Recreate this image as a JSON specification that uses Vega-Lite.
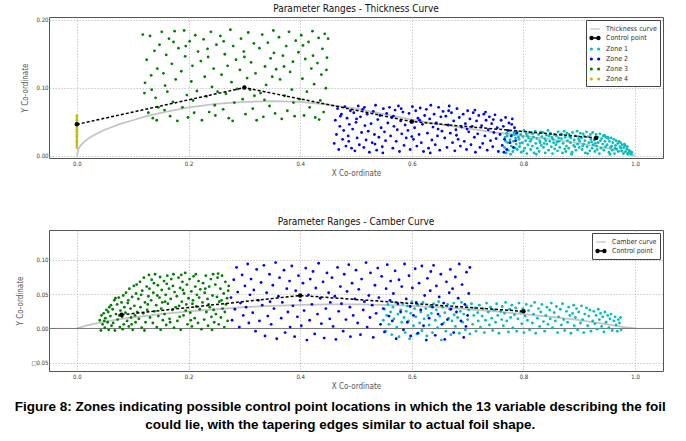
{
"$schema":"https://vega.github.io/schema/vega-lite/v6.json",
"background":"white",
"padding":{"left":14,"top":3,"right":24,"bottom":4},
"spacing":38,
"config":{
"font":"Liberation Sans Narrow, DejaVu Sans Condensed, Liberation Sans, sans-serif",
"view":{"stroke":"#555","strokeWidth":1},
"axis":{"labelFontSize":6,"labelColor":"#333","grid":true,"gridColor":"#bbb","gridDash":[1.5,1.5],"gridWidth":0.8,"domain":false,"ticks":false,"labelPadding":2,"titleFontSize":8,"titleFontWeight":"normal","titleColor":"#555","titlePadding":3},
"axisY":{"labelPadding":1,"titlePadding":6},
"title":{"fontSize":10,"fontWeight":"normal","color":"#111","offset":3},
"legend":{"title":null,"orient":"top-right","offset":3,"padding":3,"strokeColor":"#444","fillColor":"white","labelFontSize":7,"labelColor":"#333","symbolSize":110,"rowPadding":0,"labelOffset":5}
},
"title":{"text":["Figure 8: Zones indicating possible control point locations in which the 13 variable describing the foil","could lie, with the tapering edges similar to actual foil shape."],"orient":"bottom","anchor":"middle","fontSize":13.5,"fontWeight":"bold","font":"Liberation Sans, Arial, sans-serif","color":"#000","lineHeight":18,"offset":9},
"resolve":{"scale":{"color":"independent"},"legend":{"color":"independent"}},
"datasets":{
"tcurve":[{"x":0,"y":0},{"x":0.002,"y":0.008},{"x":0.005,"y":0.013},{"x":0.01,"y":0.018},{"x":0.02,"y":0.025},{"x":0.03,"y":0.03},{"x":0.05,"y":0.038},{"x":0.075,"y":0.046},{"x":0.1,"y":0.052},{"x":0.125,"y":0.058},{"x":0.15,"y":0.063},{"x":0.2,"y":0.071},{"x":0.25,"y":0.076},{"x":0.3,"y":0.079},{"x":0.35,"y":0.08},{"x":0.4,"y":0.079},{"x":0.45,"y":0.075},{"x":0.5,"y":0.069},{"x":0.55,"y":0.061},{"x":0.6,"y":0.053},{"x":0.65,"y":0.046},{"x":0.7,"y":0.04},{"x":0.75,"y":0.034},{"x":0.8,"y":0.029},{"x":0.85,"y":0.024},{"x":0.9,"y":0.018},{"x":0.95,"y":0.011},{"x":0.98,"y":0.005},{"x":1.0,"y":0}],
"tctrl":[{"x":0,"y":0.046},{"x":0.3,"y":0.1},{"x":0.6,"y":0.05},{"x":0.93,"y":0.026}],
"tz4":[{"x":0,"y":0.012},{"x":0,"y":0.015},{"x":0,"y":0.017},{"x":0,"y":0.019},{"x":0,"y":0.021},{"x":0,"y":0.023},{"x":0,"y":0.026},{"x":0,"y":0.028},{"x":0,"y":0.029},{"x":0,"y":0.031},{"x":0,"y":0.034},{"x":0,"y":0.036},{"x":0,"y":0.038},{"x":0,"y":0.039},{"x":0,"y":0.041},{"x":0,"y":0.044},{"x":0,"y":0.046},{"x":0,"y":0.047},{"x":0,"y":0.049},{"x":0,"y":0.052},{"x":0,"y":0.054},{"x":0,"y":0.057},{"x":0,"y":0.059}],
"tz3":[{"x":0.118,"y":0.178},{"x":0.121,"y":0.092},{"x":0.125,"y":0.141},{"x":0.128,"y":0.063},{"x":0.131,"y":0.176},{"x":0.133,"y":0.118},{"x":0.136,"y":0.055},{"x":0.139,"y":0.154},{"x":0.141,"y":0.085},{"x":0.144,"y":0.128},{"x":0.146,"y":0.071},{"x":0.148,"y":0.163},{"x":0.122,"y":0.107},{"x":0.134,"y":0.097},{"x":0.143,"y":0.052},
{"x":0.152,"y":0.182},{"x":0.155,"y":0.121},{"x":0.157,"y":0.067},{"x":0.16,"y":0.148},{"x":0.162,"y":0.094},{"x":0.165,"y":0.172},{"x":0.167,"y":0.058},{"x":0.17,"y":0.135},{"x":0.172,"y":0.079},{"x":0.175,"y":0.183},{"x":0.177,"y":0.112},{"x":0.18,"y":0.051},{"x":0.182,"y":0.158},{"x":0.158,"y":0.103},{"x":0.173,"y":0.167},
{"x":0.187,"y":0.124},{"x":0.189,"y":0.071},{"x":0.192,"y":0.184},{"x":0.194,"y":0.146},{"x":0.197,"y":0.089},{"x":0.199,"y":0.056},{"x":0.202,"y":0.168},{"x":0.205,"y":0.109},{"x":0.207,"y":0.132},{"x":0.21,"y":0.063},{"x":0.212,"y":0.177},{"x":0.215,"y":0.095},{"x":0.217,"y":0.153},{"x":0.195,"y":0.161},{"x":0.208,"y":0.081},
{"x":0.222,"y":0.139},{"x":0.224,"y":0.052},{"x":0.227,"y":0.171},{"x":0.229,"y":0.116},{"x":0.232,"y":0.087},{"x":0.234,"y":0.157},{"x":0.237,"y":0.064},{"x":0.24,"y":0.182},{"x":0.242,"y":0.101},{"x":0.245,"y":0.128},{"x":0.247,"y":0.074},{"x":0.25,"y":0.163},{"x":0.252,"y":0.094},{"x":0.235,"y":0.145},{"x":0.248,"y":0.059},
{"x":0.257,"y":0.176},{"x":0.259,"y":0.119},{"x":0.262,"y":0.068},{"x":0.265,"y":0.149},{"x":0.267,"y":0.091},{"x":0.27,"y":0.132},{"x":0.272,"y":0.055},{"x":0.275,"y":0.185},{"x":0.277,"y":0.108},{"x":0.28,"y":0.161},{"x":0.282,"y":0.078},{"x":0.285,"y":0.141},{"x":0.287,"y":0.098},{"x":0.263,"y":0.168},{"x":0.279,"y":0.051},
{"x":0.292,"y":0.126},{"x":0.294,"y":0.172},{"x":0.297,"y":0.083},{"x":0.299,"y":0.153},{"x":0.302,"y":0.061},{"x":0.305,"y":0.114},{"x":0.307,"y":0.181},{"x":0.31,"y":0.097},{"x":0.312,"y":0.137},{"x":0.315,"y":0.069},{"x":0.317,"y":0.165},{"x":0.32,"y":0.121},{"x":0.322,"y":0.052},{"x":0.3,"y":0.145},{"x":0.318,"y":0.088},
{"x":0.327,"y":0.158},{"x":0.329,"y":0.092},{"x":0.332,"y":0.178},{"x":0.334,"y":0.057},{"x":0.337,"y":0.131},{"x":0.339,"y":0.104},{"x":0.342,"y":0.166},{"x":0.345,"y":0.073},{"x":0.347,"y":0.143},{"x":0.35,"y":0.116},{"x":0.352,"y":0.184},{"x":0.355,"y":0.062},{"x":0.357,"y":0.127},{"x":0.336,"y":0.082},{"x":0.353,"y":0.151},
{"x":0.362,"y":0.174},{"x":0.364,"y":0.112},{"x":0.367,"y":0.054},{"x":0.369,"y":0.147},{"x":0.372,"y":0.088},{"x":0.375,"y":0.161},{"x":0.377,"y":0.066},{"x":0.38,"y":0.182},{"x":0.382,"y":0.123},{"x":0.385,"y":0.097},{"x":0.387,"y":0.138},{"x":0.39,"y":0.058},{"x":0.392,"y":0.169},{"x":0.371,"y":0.131},{"x":0.388,"y":0.078},
{"x":0.397,"y":0.152},{"x":0.399,"y":0.083},{"x":0.402,"y":0.177},{"x":0.404,"y":0.113},{"x":0.407,"y":0.059},{"x":0.409,"y":0.142},{"x":0.412,"y":0.094},{"x":0.415,"y":0.167},{"x":0.417,"y":0.071},{"x":0.42,"y":0.128},{"x":0.422,"y":0.183},{"x":0.425,"y":0.105},{"x":0.427,"y":0.056},{"x":0.405,"y":0.162},{"x":0.423,"y":0.147},
{"x":0.431,"y":0.136},{"x":0.433,"y":0.173},{"x":0.436,"y":0.081},{"x":0.438,"y":0.119},{"x":0.44,"y":0.157},{"x":0.442,"y":0.064},{"x":0.444,"y":0.179},{"x":0.446,"y":0.099},{"x":0.448,"y":0.144},{"x":0.45,"y":0.172},{"x":0.434,"y":0.053},{"x":0.447,"y":0.126}],
"tz2":[{"x":0.461,"y":0.018},{"x":0.463,"y":0.052},{"x":0.465,"y":0.031},{"x":0.467,"y":0.069},{"x":0.469,"y":0.009},{"x":0.471,"y":0.043},{"x":0.474,"y":0.061},{"x":0.476,"y":0.024},{"x":0.478,"y":0.037},{"x":0.48,"y":0.072},{"x":0.482,"y":0.014},{"x":0.484,"y":0.055},{"x":0.486,"y":0.029},{"x":0.488,"y":0.046},{"x":0.49,"y":0.066},{"x":0.492,"y":0.011},{"x":0.472,"y":0.058},{"x":0.487,"y":0.021},
{"x":0.494,"y":0.039},{"x":0.496,"y":0.063},{"x":0.498,"y":0.007},{"x":0.5,"y":0.049},{"x":0.502,"y":0.026},{"x":0.504,"y":0.073},{"x":0.506,"y":0.016},{"x":0.508,"y":0.057},{"x":0.51,"y":0.034},{"x":0.512,"y":0.068},{"x":0.514,"y":0.012},{"x":0.516,"y":0.044},{"x":0.518,"y":0.023},{"x":0.52,"y":0.061},{"x":0.522,"y":0.036},{"x":0.524,"y":0.005},{"x":0.501,"y":0.054},{"x":0.515,"y":0.071},
{"x":0.527,"y":0.047},{"x":0.529,"y":0.019},{"x":0.531,"y":0.065},{"x":0.533,"y":0.031},{"x":0.535,"y":0.074},{"x":0.537,"y":0.008},{"x":0.539,"y":0.053},{"x":0.541,"y":0.027},{"x":0.543,"y":0.059},{"x":0.545,"y":0.041},{"x":0.547,"y":0.013},{"x":0.549,"y":0.069},{"x":0.551,"y":0.035},{"x":0.553,"y":0.022},{"x":0.555,"y":0.062},{"x":0.557,"y":0.048},{"x":0.534,"y":0.017},{"x":0.548,"y":0.004},
{"x":0.56,"y":0.071},{"x":0.562,"y":0.029},{"x":0.564,"y":0.056},{"x":0.566,"y":0.011},{"x":0.568,"y":0.043},{"x":0.57,"y":0.067},{"x":0.572,"y":0.021},{"x":0.574,"y":0.038},{"x":0.576,"y":0.073},{"x":0.578,"y":0.006},{"x":0.58,"y":0.051},{"x":0.582,"y":0.032},{"x":0.584,"y":0.064},{"x":0.586,"y":0.015},{"x":0.588,"y":0.045},{"x":0.59,"y":0.026},{"x":0.567,"y":0.058},{"x":0.581,"y":0.069},
{"x":0.593,"y":0.037},{"x":0.595,"y":0.062},{"x":0.597,"y":0.009},{"x":0.599,"y":0.049},{"x":0.601,"y":0.072},{"x":0.603,"y":0.024},{"x":0.605,"y":0.041},{"x":0.607,"y":0.066},{"x":0.609,"y":0.014},{"x":0.611,"y":0.055},{"x":0.613,"y":0.031},{"x":0.615,"y":0.07},{"x":0.617,"y":0.019},{"x":0.619,"y":0.046},{"x":0.621,"y":0.006},{"x":0.623,"y":0.059},{"x":0.6,"y":0.028},{"x":0.614,"y":0.052},
{"x":0.626,"y":0.068},{"x":0.628,"y":0.033},{"x":0.63,"y":0.011},{"x":0.632,"y":0.054},{"x":0.634,"y":0.074},{"x":0.636,"y":0.023},{"x":0.638,"y":0.042},{"x":0.64,"y":0.061},{"x":0.642,"y":0.016},{"x":0.644,"y":0.048},{"x":0.646,"y":0.029},{"x":0.648,"y":0.071},{"x":0.65,"y":0.008},{"x":0.652,"y":0.057},{"x":0.654,"y":0.036},{"x":0.656,"y":0.065},{"x":0.633,"y":0.004},{"x":0.647,"y":0.039},
{"x":0.659,"y":0.026},{"x":0.661,"y":0.058},{"x":0.663,"y":0.012},{"x":0.665,"y":0.045},{"x":0.667,"y":0.073},{"x":0.669,"y":0.033},{"x":0.671,"y":0.063},{"x":0.673,"y":0.019},{"x":0.675,"y":0.051},{"x":0.677,"y":0.007},{"x":0.679,"y":0.038},{"x":0.681,"y":0.069},{"x":0.683,"y":0.024},{"x":0.685,"y":0.056},{"x":0.687,"y":0.014},{"x":0.689,"y":0.042},{"x":0.666,"y":0.066},{"x":0.68,"y":0.03},
{"x":0.692,"y":0.061},{"x":0.694,"y":0.021},{"x":0.696,"y":0.047},{"x":0.698,"y":0.009},{"x":0.7,"y":0.066},{"x":0.702,"y":0.035},{"x":0.704,"y":0.054},{"x":0.706,"y":0.016},{"x":0.708,"y":0.043},{"x":0.71,"y":0.063},{"x":0.712,"y":0.027},{"x":0.714,"y":0.005},{"x":0.716,"y":0.051},{"x":0.718,"y":0.032},{"x":0.72,"y":0.059},{"x":0.722,"y":0.012},{"x":0.699,"y":0.039},{"x":0.713,"y":0.067},
{"x":0.725,"y":0.044},{"x":0.727,"y":0.018},{"x":0.729,"y":0.061},{"x":0.731,"y":0.029},{"x":0.733,"y":0.052},{"x":0.735,"y":0.008},{"x":0.737,"y":0.038},{"x":0.739,"y":0.057},{"x":0.741,"y":0.022},{"x":0.743,"y":0.047},{"x":0.745,"y":0.013},{"x":0.747,"y":0.034},{"x":0.749,"y":0.06},{"x":0.751,"y":0.025},{"x":0.753,"y":0.041},{"x":0.755,"y":0.006},{"x":0.732,"y":0.064},{"x":0.746,"y":0.053},
{"x":0.758,"y":0.031},{"x":0.76,"y":0.052},{"x":0.762,"y":0.015},{"x":0.764,"y":0.043},{"x":0.766,"y":0.024},{"x":0.768,"y":0.056},{"x":0.77,"y":0.009},{"x":0.772,"y":0.037},{"x":0.774,"y":0.048},{"x":0.776,"y":0.019},{"x":0.778,"y":0.029},{"x":0.78,"y":0.054},{"x":0.782,"y":0.012},{"x":0.784,"y":0.041},{"x":0.786,"y":0.022},{"x":0.788,"y":0.033},{"x":0.765,"y":0.005},{"x":0.779,"y":0.046}],
"tz1":[{"x":0.766,"y":0.012},{"x":0.767,"y":0.027},{"x":0.769,"y":0.004},{"x":0.77,"y":0.033},{"x":0.772,"y":0.019},{"x":0.773,"y":0.008},{"x":0.775,"y":0.036},{"x":0.776,"y":0.023},{"x":0.778,"y":0.014},{"x":0.779,"y":0.03},{"x":0.781,"y":0.006},{"x":0.782,"y":0.021},{"x":0.783,"y":0.034},{"x":0.785,"y":0.011},{"x":0.786,"y":0.026},{"x":0.787,"y":0.017},{"x":0.771,"y":0.029},{"x":0.777,"y":0.002},{"x":0.784,"y":0.031},{"x":0.768,"y":0.021},
{"x":0.789,"y":0.009},{"x":0.79,"y":0.035},{"x":0.792,"y":0.024},{"x":0.793,"y":0.013},{"x":0.795,"y":0.031},{"x":0.796,"y":0.005},{"x":0.798,"y":0.019},{"x":0.799,"y":0.028},{"x":0.801,"y":0.037},{"x":0.802,"y":0.011},{"x":0.804,"y":0.022},{"x":0.805,"y":0.032},{"x":0.806,"y":0.003},{"x":0.808,"y":0.016},{"x":0.809,"y":0.026},{"x":0.81,"y":0.034},{"x":0.794,"y":0.018},{"x":0.8,"y":0.007},{"x":0.807,"y":0.029},{"x":0.791,"y":0.027},
{"x":0.812,"y":0.021},{"x":0.813,"y":0.009},{"x":0.815,"y":0.033},{"x":0.816,"y":0.014},{"x":0.818,"y":0.027},{"x":0.819,"y":0.004},{"x":0.821,"y":0.036},{"x":0.822,"y":0.018},{"x":0.824,"y":0.025},{"x":0.825,"y":0.011},{"x":0.827,"y":0.031},{"x":0.828,"y":0.006},{"x":0.829,"y":0.022},{"x":0.831,"y":0.035},{"x":0.832,"y":0.015},{"x":0.833,"y":0.028},{"x":0.817,"y":0.032},{"x":0.823,"y":0.002},{"x":0.83,"y":0.019},{"x":0.814,"y":0.024},
{"x":0.835,"y":0.034},{"x":0.836,"y":0.012},{"x":0.838,"y":0.025},{"x":0.839,"y":0.004},{"x":0.841,"y":0.03},{"x":0.842,"y":0.017},{"x":0.844,"y":0.037},{"x":0.845,"y":0.008},{"x":0.847,"y":0.021},{"x":0.848,"y":0.033},{"x":0.85,"y":0.013},{"x":0.851,"y":0.027},{"x":0.852,"y":0.003},{"x":0.854,"y":0.019},{"x":0.855,"y":0.031},{"x":0.856,"y":0.01},{"x":0.84,"y":0.022},{"x":0.846,"y":0.029},{"x":0.853,"y":0.024},{"x":0.837,"y":0.018},
{"x":0.858,"y":0.016},{"x":0.859,"y":0.029},{"x":0.861,"y":0.007},{"x":0.862,"y":0.035},{"x":0.864,"y":0.021},{"x":0.865,"y":0.012},{"x":0.867,"y":0.032},{"x":0.868,"y":0.025},{"x":0.87,"y":0.004},{"x":0.871,"y":0.018},{"x":0.873,"y":0.036},{"x":0.874,"y":0.01},{"x":0.875,"y":0.027},{"x":0.877,"y":0.014},{"x":0.878,"y":0.033},{"x":0.879,"y":0.022},{"x":0.863,"y":0.026},{"x":0.869,"y":0.031},{"x":0.876,"y":0.006},{"x":0.86,"y":0.02},
{"x":0.881,"y":0.011},{"x":0.882,"y":0.031},{"x":0.884,"y":0.019},{"x":0.885,"y":0.026},{"x":0.887,"y":0.005},{"x":0.888,"y":0.034},{"x":0.89,"y":0.015},{"x":0.891,"y":0.023},{"x":0.893,"y":0.029},{"x":0.894,"y":0.008},{"x":0.896,"y":0.036},{"x":0.897,"y":0.017},{"x":0.898,"y":0.028},{"x":0.9,"y":0.012},{"x":0.901,"y":0.021},{"x":0.902,"y":0.033},{"x":0.886,"y":0.002},{"x":0.892,"y":0.013},{"x":0.899,"y":0.024},{"x":0.883,"y":0.028},
{"x":0.904,"y":0.026},{"x":0.905,"y":0.009},{"x":0.907,"y":0.032},{"x":0.908,"y":0.017},{"x":0.91,"y":0.022},{"x":0.911,"y":0.004},{"x":0.913,"y":0.035},{"x":0.914,"y":0.013},{"x":0.916,"y":0.028},{"x":0.917,"y":0.019},{"x":0.919,"y":0.007},{"x":0.92,"y":0.031},{"x":0.921,"y":0.024},{"x":0.923,"y":0.011},{"x":0.924,"y":0.034},{"x":0.925,"y":0.016},{"x":0.909,"y":0.029},{"x":0.915,"y":0.003},{"x":0.922,"y":0.02},{"x":0.906,"y":0.014},
{"x":0.927,"y":0.023},{"x":0.928,"y":0.006},{"x":0.93,"y":0.031},{"x":0.931,"y":0.014},{"x":0.933,"y":0.027},{"x":0.934,"y":0.019},{"x":0.936,"y":0.003},{"x":0.937,"y":0.032},{"x":0.939,"y":0.011},{"x":0.94,"y":0.025},{"x":0.942,"y":0.017},{"x":0.943,"y":0.029},{"x":0.944,"y":0.008},{"x":0.946,"y":0.021},{"x":0.947,"y":0.013},{"x":0.948,"y":0.027},{"x":0.932,"y":0.009},{"x":0.938,"y":0.022},{"x":0.945,"y":0.03},{"x":0.929,"y":0.018},
{"x":0.95,"y":0.016},{"x":0.951,"y":0.027},{"x":0.953,"y":0.005},{"x":0.954,"y":0.021},{"x":0.956,"y":0.012},{"x":0.957,"y":0.026},{"x":0.959,"y":0.008},{"x":0.96,"y":0.019},{"x":0.962,"y":0.024},{"x":0.963,"y":0.003},{"x":0.965,"y":0.015},{"x":0.966,"y":0.022},{"x":0.967,"y":0.01},{"x":0.969,"y":0.018},{"x":0.97,"y":0.006},{"x":0.971,"y":0.021},{"x":0.952,"y":0.025},{"x":0.958,"y":0.014},{"x":0.964,"y":0.011},{"x":0.955,"y":0.002},
{"x":0.973,"y":0.013},{"x":0.974,"y":0.019},{"x":0.976,"y":0.007},{"x":0.977,"y":0.016},{"x":0.979,"y":0.003},{"x":0.98,"y":0.012},{"x":0.982,"y":0.015},{"x":0.983,"y":0.006},{"x":0.985,"y":0.01},{"x":0.986,"y":0.013},{"x":0.988,"y":0.004},{"x":0.989,"y":0.008},{"x":0.991,"y":0.006},{"x":0.993,"y":0.002},{"x":0.994,"y":0.005},{"x":0.975,"y":0.011},{"x":0.981,"y":0.017},{"x":0.987,"y":0.002}],
"ccurve":[{"x":0,"y":0},{"x":0.02,"y":0.005},{"x":0.05,"y":0.01},{"x":0.08,"y":0.014},{"x":0.1,"y":0.016},{"x":0.15,"y":0.021},{"x":0.2,"y":0.025},{"x":0.25,"y":0.028},{"x":0.3,"y":0.031},{"x":0.35,"y":0.033},{"x":0.4,"y":0.0345},{"x":0.45,"y":0.035},{"x":0.5,"y":0.035},{"x":0.55,"y":0.0345},{"x":0.6,"y":0.033},{"x":0.65,"y":0.031},{"x":0.7,"y":0.028},{"x":0.75,"y":0.025},{"x":0.8,"y":0.021},{"x":0.85,"y":0.017},{"x":0.9,"y":0.012},{"x":0.95,"y":0.006},{"x":0.98,"y":0.002},{"x":1.0,"y":0}],
"cctrl":[{"x":0.08,"y":0.02},{"x":0.4,"y":0.048},{"x":0.8,"y":0.025}],
"cz3":[{"x":0.041,"y":0.012},{"x":0.043,"y":-0.003},{"x":0.044,"y":0.019},{"x":0.046,"y":0.006},{"x":0.048,"y":0.022},{"x":0.05,"y":0.001},{"x":0.051,"y":0.015},{"x":0.053,"y":0.027},{"x":0.055,"y":0.009},{"x":0.057,"y":-0.002},{"x":0.058,"y":0.031},{"x":0.06,"y":0.018},{"x":0.062,"y":0.004},{"x":0.049,"y":0.011},{"x":0.056,"y":0.024},{"x":0.061,"y":0.034},
{"x":0.064,"y":0.028},{"x":0.065,"y":0.008},{"x":0.067,"y":0.041},{"x":0.068,"y":-0.003},{"x":0.07,"y":0.021},{"x":0.072,"y":0.035},{"x":0.073,"y":0.013},{"x":0.075,"y":0.045},{"x":0.077,"y":0.002},{"x":0.078,"y":0.026},{"x":0.08,"y":0.038},{"x":0.081,"y":0.017},{"x":0.083,"y":0.048},{"x":0.084,"y":0.006},{"x":0.085,"y":0.031},{"x":0.069,"y":0.044},{"x":0.076,"y":0.019},{"x":0.082,"y":-0.001},
{"x":0.087,"y":0.023},{"x":0.088,"y":0.052},{"x":0.09,"y":0.011},{"x":0.091,"y":0.037},{"x":0.093,"y":0.003},{"x":0.094,"y":0.058},{"x":0.096,"y":0.029},{"x":0.097,"y":0.016},{"x":0.099,"y":0.046},{"x":0.1,"y":-0.002},{"x":0.102,"y":0.062},{"x":0.103,"y":0.033},{"x":0.105,"y":0.009},{"x":0.106,"y":0.051},{"x":0.108,"y":0.024},{"x":0.092,"y":0.041},{"x":0.098,"y":0.006},{"x":0.104,"y":0.019},{"x":0.107,"y":0.064},
{"x":0.11,"y":0.043},{"x":0.111,"y":0.014},{"x":0.113,"y":0.068},{"x":0.114,"y":0.031},{"x":0.116,"y":0.001},{"x":0.117,"y":0.055},{"x":0.119,"y":0.022},{"x":0.12,"y":0.074},{"x":0.122,"y":0.038},{"x":0.123,"y":0.009},{"x":0.125,"y":0.061},{"x":0.126,"y":0.027},{"x":0.128,"y":0.047},{"x":0.129,"y":0.078},{"x":0.131,"y":0.016},{"x":0.115,"y":0.049},{"x":0.121,"y":-0.003},{"x":0.127,"y":0.035},{"x":0.13,"y":0.058},
{"x":0.133,"y":0.041},{"x":0.134,"y":0.071},{"x":0.136,"y":0.008},{"x":0.137,"y":0.052},{"x":0.139,"y":0.025},{"x":0.14,"y":0.079},{"x":0.142,"y":0.034},{"x":0.143,"y":0.002},{"x":0.145,"y":0.063},{"x":0.146,"y":0.018},{"x":0.148,"y":0.045},{"x":0.149,"y":0.075},{"x":0.151,"y":0.029},{"x":0.152,"y":0.056},{"x":0.154,"y":0.012},{"x":0.138,"y":0.066},{"x":0.144,"y":0.048},{"x":0.15,"y":-0.002},{"x":0.153,"y":0.038},
{"x":0.156,"y":0.069},{"x":0.157,"y":0.021},{"x":0.159,"y":0.049},{"x":0.16,"y":0.005},{"x":0.162,"y":0.077},{"x":0.163,"y":0.036},{"x":0.165,"y":0.058},{"x":0.166,"y":0.014},{"x":0.168,"y":0.043},{"x":0.169,"y":0.072},{"x":0.171,"y":0.027},{"x":0.172,"y":0.062},{"x":0.174,"y":0.001},{"x":0.175,"y":0.053},{"x":0.177,"y":0.031},{"x":0.161,"y":0.065},{"x":0.167,"y":0.009},{"x":0.173,"y":0.079},{"x":0.158,"y":0.039},
{"x":0.179,"y":0.047},{"x":0.18,"y":0.011},{"x":0.182,"y":0.074},{"x":0.183,"y":0.033},{"x":0.185,"y":0.059},{"x":0.186,"y":-0.002},{"x":0.188,"y":0.039},{"x":0.189,"y":0.068},{"x":0.191,"y":0.019},{"x":0.192,"y":0.051},{"x":0.194,"y":0.081},{"x":0.195,"y":0.026},{"x":0.197,"y":0.064},{"x":0.198,"y":0.006},{"x":0.2,"y":0.044},{"x":0.184,"y":0.017},{"x":0.19,"y":0.056},{"x":0.196,"y":0.035},{"x":0.187,"y":0.078},
{"x":0.202,"y":0.072},{"x":0.203,"y":0.023},{"x":0.205,"y":0.054},{"x":0.206,"y":0.003},{"x":0.208,"y":0.041},{"x":0.209,"y":0.076},{"x":0.211,"y":0.015},{"x":0.212,"y":0.061},{"x":0.214,"y":0.032},{"x":0.215,"y":0.049},{"x":0.217,"y":0.008},{"x":0.218,"y":0.069},{"x":0.22,"y":0.028},{"x":0.221,"y":0.057},{"x":0.223,"y":-0.001},{"x":0.207,"y":0.036},{"x":0.213,"y":0.079},{"x":0.219,"y":0.045},{"x":0.204,"y":0.012},
{"x":0.225,"y":0.038},{"x":0.226,"y":0.066},{"x":0.228,"y":0.013},{"x":0.229,"y":0.052},{"x":0.231,"y":0.077},{"x":0.232,"y":0.024},{"x":0.234,"y":0.043},{"x":0.235,"y":0.004},{"x":0.237,"y":0.061},{"x":0.238,"y":0.031},{"x":0.24,"y":0.072},{"x":0.241,"y":0.017},{"x":0.243,"y":0.048},{"x":0.244,"y":0.079},{"x":0.246,"y":0.009},{"x":0.23,"y":0.058},{"x":0.236,"y":0.035},{"x":0.242,"y":-0.002},{"x":0.245,"y":0.027},
{"x":0.248,"y":0.064},{"x":0.249,"y":0.021},{"x":0.251,"y":0.046},{"x":0.252,"y":0.074},{"x":0.254,"y":0.006},{"x":0.255,"y":0.039},{"x":0.257,"y":0.058},{"x":0.258,"y":0.016},{"x":0.26,"y":0.077},{"x":0.261,"y":0.029},{"x":0.263,"y":0.051},{"x":0.264,"y":0.002},{"x":0.266,"y":0.068},{"x":0.267,"y":0.035},{"x":0.269,"y":0.044},{"x":0.27,"y":0.011},{"x":0.272,"y":0.062},{"x":0.253,"y":0.08},{"x":0.259,"y":0.041},{"x":0.265,"y":0.024},{"x":0.271,"y":0.055}],
"cz2":[{"x":0.276,"y":0.045},{"x":0.278,"y":0.012},{"x":0.281,"y":0.071},{"x":0.283,"y":0.028},{"x":0.286,"y":0.089},{"x":0.288,"y":0.053},{"x":0.291,"y":0.002},{"x":0.293,"y":0.037},{"x":0.296,"y":0.078},{"x":0.298,"y":0.019},{"x":0.301,"y":0.062},{"x":0.303,"y":0.031},{"x":0.306,"y":0.094},{"x":0.308,"y":0.008},{"x":0.31,"y":0.049},
{"x":0.312,"y":0.072},{"x":0.315,"y":0.023},{"x":0.317,"y":0.056},{"x":0.32,"y":-0.004},{"x":0.322,"y":0.086},{"x":0.325,"y":0.041},{"x":0.327,"y":0.011},{"x":0.33,"y":0.067},{"x":0.332,"y":0.034},{"x":0.335,"y":0.092},{"x":0.337,"y":-0.011},{"x":0.34,"y":0.052},{"x":0.342,"y":0.018},{"x":0.345,"y":0.079},{"x":0.346,"y":0.039},
{"x":0.348,"y":0.006},{"x":0.351,"y":0.063},{"x":0.353,"y":0.029},{"x":0.356,"y":0.096},{"x":0.358,"y":-0.015},{"x":0.361,"y":0.047},{"x":0.363,"y":0.074},{"x":0.366,"y":0.015},{"x":0.368,"y":0.038},{"x":0.371,"y":0.085},{"x":0.373,"y":-0.006},{"x":0.376,"y":0.058},{"x":0.378,"y":0.024},{"x":0.381,"y":0.069},{"x":0.382,"y":0.002},
{"x":0.385,"y":0.091},{"x":0.387,"y":0.033},{"x":0.39,"y":-0.012},{"x":0.392,"y":0.055},{"x":0.395,"y":0.017},{"x":0.397,"y":0.077},{"x":0.4,"y":0.041},{"x":0.402,"y":0.004},{"x":0.405,"y":0.066},{"x":0.407,"y":0.026},{"x":0.41,"y":0.088},{"x":0.412,"y":-0.017},{"x":0.415,"y":0.049},{"x":0.417,"y":0.012},{"x":0.418,"y":0.072},
{"x":0.421,"y":0.035},{"x":0.423,"y":0.083},{"x":0.426,"y":-0.008},{"x":0.428,"y":0.059},{"x":0.431,"y":0.021},{"x":0.433,"y":0.095},{"x":0.436,"y":0.044},{"x":0.438,"y":0.007},{"x":0.441,"y":0.068},{"x":0.443,"y":-0.014},{"x":0.446,"y":0.029},{"x":0.448,"y":0.081},{"x":0.451,"y":0.052},{"x":0.453,"y":0.014},{"x":0.454,"y":0.038},
{"x":0.457,"y":0.074},{"x":0.459,"y":0.003},{"x":0.462,"y":0.047},{"x":0.464,"y":-0.016},{"x":0.467,"y":0.089},{"x":0.469,"y":0.025},{"x":0.472,"y":0.061},{"x":0.474,"y":0.036},{"x":0.477,"y":-0.004},{"x":0.479,"y":0.079},{"x":0.482,"y":0.013},{"x":0.484,"y":0.054},{"x":0.487,"y":0.093},{"x":0.489,"y":0.031},{"x":0.49,"y":-0.012},
{"x":0.493,"y":0.066},{"x":0.495,"y":0.019},{"x":0.498,"y":0.043},{"x":0.5,"y":0.085},{"x":0.503,"y":0.008},{"x":0.505,"y":0.057},{"x":0.508,"y":-0.009},{"x":0.51,"y":0.072},{"x":0.513,"y":0.027},{"x":0.515,"y":0.039},{"x":0.518,"y":0.096},{"x":0.52,"y":0.002},{"x":0.523,"y":0.048},{"x":0.525,"y":0.016},{"x":0.526,"y":0.081},
{"x":0.529,"y":0.034},{"x":0.531,"y":-0.013},{"x":0.534,"y":0.063},{"x":0.536,"y":0.022},{"x":0.539,"y":0.088},{"x":0.541,"y":0.045},{"x":0.544,"y":0.006},{"x":0.546,"y":0.076},{"x":0.549,"y":0.029},{"x":0.551,"y":-0.005},{"x":0.554,"y":0.058},{"x":0.556,"y":0.093},{"x":0.559,"y":0.018},{"x":0.561,"y":0.041},{"x":0.562,"y":0.069},
{"x":0.565,"y":0.011},{"x":0.567,"y":0.051},{"x":0.57,"y":0.084},{"x":0.572,"y":-0.015},{"x":0.575,"y":0.036},{"x":0.577,"y":0.071},{"x":0.58,"y":0.024},{"x":0.582,"y":0.061},{"x":0.585,"y":-0.002},{"x":0.587,"y":0.094},{"x":0.59,"y":0.043},{"x":0.592,"y":0.009},{"x":0.595,"y":0.077},{"x":0.597,"y":0.032},{"x":0.598,"y":-0.011},
{"x":0.601,"y":0.059},{"x":0.603,"y":0.019},{"x":0.606,"y":0.087},{"x":0.608,"y":0.038},{"x":0.611,"y":-0.007},{"x":0.613,"y":0.066},{"x":0.616,"y":0.027},{"x":0.618,"y":0.091},{"x":0.621,"y":0.004},{"x":0.623,"y":0.048},{"x":0.626,"y":-0.017},{"x":0.628,"y":0.073},{"x":0.631,"y":0.015},{"x":0.633,"y":0.055},{"x":0.634,"y":0.083},
{"x":0.637,"y":0.031},{"x":0.639,"y":0.092},{"x":0.642,"y":-0.01},{"x":0.644,"y":0.062},{"x":0.647,"y":0.021},{"x":0.649,"y":0.046},{"x":0.652,"y":0.079},{"x":0.654,"y":0.006},{"x":0.657,"y":0.037},{"x":0.659,"y":-0.016},{"x":0.662,"y":0.068},{"x":0.664,"y":0.013},{"x":0.667,"y":0.052},{"x":0.669,"y":0.086},{"x":0.67,"y":0.028},
{"x":0.673,"y":0.058},{"x":0.675,"y":-0.006},{"x":0.678,"y":0.075},{"x":0.68,"y":0.024},{"x":0.683,"y":0.044},{"x":0.685,"y":0.094},{"x":0.688,"y":0.011},{"x":0.69,"y":0.064},{"x":0.693,"y":-0.013},{"x":0.695,"y":0.035},{"x":0.698,"y":0.082},{"x":0.7,"y":0.019},{"x":0.702,"y":0.051},{"x":0.704,"y":0.089},{"x":0.697,"y":0.003}],
"cz1":[{"x":0.549,"y":0.012},{"x":0.551,"y":0.028},{"x":0.553,"y":-0.004},{"x":0.555,"y":0.019},{"x":0.557,"y":0.035},{"x":0.559,"y":0.006},{"x":0.562,"y":0.024},{"x":0.564,"y":-0.009},{"x":0.566,"y":0.031},{"x":0.568,"y":0.014},{"x":0.571,"y":0.038},{"x":0.573,"y":0.002},{"x":0.575,"y":0.021},{"x":0.577,"y":-0.012},{"x":0.58,"y":0.027},{"x":0.582,"y":0.009},{"x":0.584,"y":0.036},{"x":0.586,"y":0.016},{"x":0.588,"y":-0.006},{"x":0.59,"y":0.025},
{"x":0.592,"y":0.033},{"x":0.594,"y":0.011},{"x":0.596,"y":-0.015},{"x":0.598,"y":0.022},{"x":0.6,"y":0.039},{"x":0.603,"y":0.004},{"x":0.605,"y":0.029},{"x":0.607,"y":0.017},{"x":0.609,"y":-0.008},{"x":0.611,"y":0.034},{"x":0.614,"y":0.008},{"x":0.616,"y":0.024},{"x":0.618,"y":-0.003},{"x":0.62,"y":0.038},{"x":0.622,"y":0.014},{"x":0.625,"y":0.029},{"x":0.627,"y":-0.011},{"x":0.629,"y":0.019},{"x":0.631,"y":0.005},{"x":0.633,"y":0.032},
{"x":0.635,"y":0.022},{"x":0.637,"y":-0.006},{"x":0.639,"y":0.036},{"x":0.642,"y":0.012},{"x":0.644,"y":0.027},{"x":0.646,"y":0.001},{"x":0.648,"y":0.039},{"x":0.65,"y":0.018},{"x":0.653,"y":-0.017},{"x":0.655,"y":0.031},{"x":0.657,"y":0.008},{"x":0.659,"y":0.023},{"x":0.661,"y":-0.004},{"x":0.664,"y":0.035},{"x":0.666,"y":0.015},{"x":0.668,"y":0.028},{"x":0.67,"y":-0.009},{"x":0.672,"y":0.011},{"x":0.675,"y":0.037},{"x":0.676,"y":0.02},
{"x":0.678,"y":0.003},{"x":0.68,"y":0.031},{"x":0.682,"y":0.016},{"x":0.685,"y":-0.007},{"x":0.687,"y":0.025},{"x":0.689,"y":0.038},{"x":0.691,"y":0.009},{"x":0.693,"y":0.021},{"x":0.696,"y":-0.002},{"x":0.698,"y":0.033},{"x":0.7,"y":0.013},{"x":0.702,"y":0.027},{"x":0.704,"y":-0.008},{"x":0.707,"y":0.036},{"x":0.709,"y":0.006},{"x":0.711,"y":0.019},{"x":0.713,"y":0.03},{"x":0.715,"y":-0.004},{"x":0.718,"y":0.023},{"x":0.719,"y":0.011},
{"x":0.721,"y":0.034},{"x":0.723,"y":0.002},{"x":0.726,"y":0.018},{"x":0.728,"y":0.029},{"x":0.73,"y":-0.006},{"x":0.732,"y":0.012},{"x":0.734,"y":0.037},{"x":0.737,"y":0.024},{"x":0.739,"y":0.005},{"x":0.741,"y":0.031},{"x":0.743,"y":0.015},{"x":0.745,"y":-0.003},{"x":0.748,"y":0.027},{"x":0.75,"y":0.009},{"x":0.752,"y":0.036},{"x":0.754,"y":0.019},{"x":0.756,"y":-0.007},{"x":0.759,"y":0.025},{"x":0.761,"y":0.013},{"x":0.762,"y":0.032},
{"x":0.764,"y":0.004},{"x":0.766,"y":0.022},{"x":0.768,"y":0.038},{"x":0.77,"y":0.011},{"x":0.773,"y":-0.005},{"x":0.775,"y":0.028},{"x":0.777,"y":0.016},{"x":0.779,"y":0.034},{"x":0.781,"y":0.001},{"x":0.784,"y":0.02},{"x":0.786,"y":0.03},{"x":0.788,"y":-0.004},{"x":0.79,"y":0.014},{"x":0.792,"y":0.037},{"x":0.795,"y":0.024},{"x":0.797,"y":0.007},{"x":0.799,"y":0.029},{"x":0.801,"y":-0.006},{"x":0.803,"y":0.018},{"x":0.805,"y":0.035},
{"x":0.807,"y":0.012},{"x":0.809,"y":0.026},{"x":0.811,"y":-0.002},{"x":0.814,"y":0.033},{"x":0.816,"y":0.008},{"x":0.818,"y":0.021},{"x":0.82,"y":0.038},{"x":0.822,"y":-0.007},{"x":0.825,"y":0.015},{"x":0.827,"y":0.029},{"x":0.829,"y":0.003},{"x":0.831,"y":0.024},{"x":0.833,"y":0.035},{"x":0.836,"y":0.01},{"x":0.838,"y":-0.004},{"x":0.84,"y":0.019},{"x":0.842,"y":0.031},{"x":0.844,"y":0.006},{"x":0.847,"y":0.027},{"x":0.848,"y":0.014},
{"x":0.85,"y":0.037},{"x":0.852,"y":0.001},{"x":0.855,"y":0.023},{"x":0.857,"y":0.011},{"x":0.859,"y":0.032},{"x":0.861,"y":-0.006},{"x":0.863,"y":0.017},{"x":0.866,"y":0.028},{"x":0.868,"y":0.005},{"x":0.87,"y":0.036},{"x":0.872,"y":0.013},{"x":0.874,"y":-0.003},{"x":0.877,"y":0.025},{"x":0.879,"y":0.009},{"x":0.881,"y":0.031},{"x":0.883,"y":0.019},{"x":0.885,"y":-0.007},{"x":0.888,"y":0.022},{"x":0.89,"y":0.034},{"x":0.891,"y":0.004},
{"x":0.893,"y":0.016},{"x":0.895,"y":0.029},{"x":0.897,"y":-0.002},{"x":0.899,"y":0.024},{"x":0.902,"y":0.008},{"x":0.904,"y":0.033},{"x":0.906,"y":0.013},{"x":0.908,"y":-0.006},{"x":0.91,"y":0.021},{"x":0.913,"y":0.03},{"x":0.915,"y":0.004},{"x":0.917,"y":0.018},{"x":0.919,"y":0.027},{"x":0.921,"y":-0.004},{"x":0.924,"y":0.011},{"x":0.926,"y":0.025},{"x":0.928,"y":0.007},{"x":0.93,"y":0.019},{"x":0.932,"y":-0.001},{"x":0.934,"y":0.028},
{"x":0.936,"y":0.013},{"x":0.938,"y":0.022},{"x":0.94,"y":0.003},{"x":0.942,"y":0.017},{"x":0.944,"y":-0.005},{"x":0.946,"y":0.024},{"x":0.948,"y":0.009},{"x":0.951,"y":0.019},{"x":0.953,"y":0.001},{"x":0.955,"y":0.014},{"x":0.957,"y":0.021},{"x":0.959,"y":-0.003},{"x":0.962,"y":0.011},{"x":0.964,"y":0.017},{"x":0.966,"y":0.005},{"x":0.968,"y":-0.004},{"x":0.97,"y":0.013},{"x":0.972,"y":0.008},{"x":0.974,"y":0.016},{"x":0.975,"y":-0.002}]
},
"vconcat":[
{"width":614,"height":141,"title":"Parameter Ranges - Thickness Curve",
"layer":[
{"data":{"name":"tcurve"},"mark":{"type":"line","strokeWidth":1.8},
"encoding":{"x":{"field":"x","type":"quantitative","scale":{"domain":[-0.05,1.05],"nice":false,"zero":false},"axis":{"values":[0,0.2,0.4,0.6,0.8,1.0],"format":".1f","title":"X Co-ordinate"}},
"y":{"field":"y","type":"quantitative","scale":{"domain":[-0.0035,0.2038],"nice":false,"zero":false},"axis":{"values":[0,0.05,0.1,0.15,0.2],"format":".2f","title":"Y Co-ordinate"}},
"color":{"datum":"Thickness curve","type":"nominal","scale":{"domain":["Thickness curve","Control point","Zone 1","Zone 2","Zone 3","Zone 4"],"range":["#c4c4c4","#000000","#00bfbf","#0000ff","#008000","#bfbf00"]},
"legend":{"encode":{"symbols":{"update":{
"shape":{"signal":"datum.value === 'Thickness curve' ? 'M-0.9,0L0.9,0' : datum.value === 'Control point' ? 'M-0.95,0a0.3,0.3 0 1,0 0.6,0a0.3,0.3 0 1,0 -0.6,0M0.35,0a0.3,0.3 0 1,0 0.6,0a0.3,0.3 0 1,0 -0.6,0M-0.65,0L0.65,0' : 'M-0.88,0a0.18,0.18 0 1,0 0.36,0a0.18,0.18 0 1,0 -0.36,0M0.52,0a0.18,0.18 0 1,0 0.36,0a0.18,0.18 0 1,0 -0.36,0'"},
"fill":{"signal":"datum.value === 'Thickness curve' ? 'transparent' : datum.value === 'Control point' ? '#000000' : datum.value === 'Zone 1' ? '#00bfbf' : datum.value === 'Zone 2' ? '#0000ff' : datum.value === 'Zone 3' ? '#008000' : '#bfbf00'"},
"stroke":{"signal":"datum.value === 'Thickness curve' ? '#c4c4c4' : datum.value === 'Control point' ? '#000000' : 'transparent'"},
"strokeWidth":{"value":1.3},"opacity":{"value":1}}}}}}}},
{"data":{"name":"tz1"},"mark":{"type":"point","filled":true,"size":8,"opacity":1},"encoding":{"x":{"field":"x","type":"quantitative"},"y":{"field":"y","type":"quantitative"},"color":{"datum":"Zone 1","type":"nominal"}}},
{"data":{"name":"tz2"},"mark":{"type":"point","filled":true,"size":8,"opacity":1},"encoding":{"x":{"field":"x","type":"quantitative"},"y":{"field":"y","type":"quantitative"},"color":{"datum":"Zone 2","type":"nominal"}}},
{"data":{"name":"tz3"},"mark":{"type":"point","filled":true,"size":8,"opacity":1},"encoding":{"x":{"field":"x","type":"quantitative"},"y":{"field":"y","type":"quantitative"},"color":{"datum":"Zone 3","type":"nominal"}}},
{"data":{"name":"tz4"},"mark":{"type":"point","filled":true,"size":7,"opacity":1},"encoding":{"x":{"field":"x","type":"quantitative"},"y":{"field":"y","type":"quantitative"},"color":{"datum":"Zone 4","type":"nominal"}}},
{"data":{"name":"tctrl"},"mark":{"type":"line","strokeDash":[3,2],"strokeWidth":1.5,"point":{"filled":true,"size":20,"opacity":1}},"encoding":{"x":{"field":"x","type":"quantitative"},"y":{"field":"y","type":"quantitative"},"color":{"datum":"Control point","type":"nominal"}}}
]},
{"width":614,"height":141,"title":"Parameter Ranges - Camber Curve",
"layer":[
{"data":{"name":"ccurve"},"mark":{"type":"line","strokeWidth":1.8},
"encoding":{"x":{"field":"x","type":"quantitative","scale":{"domain":[-0.05,1.05],"nice":false,"zero":false},"axis":{"values":[0,0.2,0.4,0.6,0.8,1.0],"format":".1f","title":"X Co-ordinate"}},
"y":{"field":"y","type":"quantitative","scale":{"domain":[-0.062,0.1435],"nice":false,"zero":false},"axis":{"values":[-0.05,0,0.05,0.1],"labelExpr":"datum.value < 0 ? '\u25a1' + format(-datum.value, '.2f') : format(datum.value, '.2f')","title":"Y Co-ordinate"}},
"color":{"datum":"Camber curve","type":"nominal","scale":{"domain":["Camber curve","Control point"],"range":["#c4c4c4","#000000"]},
"legend":{"encode":{"symbols":{"update":{
"shape":{"signal":"datum.value === 'Camber curve' ? 'M-0.9,0L0.9,0' : 'M-0.95,0a0.3,0.3 0 1,0 0.6,0a0.3,0.3 0 1,0 -0.6,0M0.35,0a0.3,0.3 0 1,0 0.6,0a0.3,0.3 0 1,0 -0.6,0M-0.65,0L0.65,0'"},
"fill":{"signal":"datum.value === 'Camber curve' ? 'transparent' : '#000000'"},
"stroke":{"signal":"datum.value === 'Camber curve' ? '#c4c4c4' : '#000000'"},
"strokeWidth":{"value":1.3},"opacity":{"value":1}}}}}}}},
{"data":{"values":[{}]},"mark":{"type":"rule","color":"#777","strokeWidth":1},"encoding":{"y":{"datum":0}}},
{"data":{"name":"cz1"},"mark":{"type":"point","filled":true,"size":8,"opacity":1,"color":"#00bfbf"},"encoding":{"x":{"field":"x","type":"quantitative"},"y":{"field":"y","type":"quantitative"}}},
{"data":{"name":"cz2"},"mark":{"type":"point","filled":true,"size":8,"opacity":1,"color":"#0000ff"},"encoding":{"x":{"field":"x","type":"quantitative"},"y":{"field":"y","type":"quantitative"}}},
{"data":{"name":"cz3"},"mark":{"type":"point","filled":true,"size":8,"opacity":1,"color":"#008000"},"encoding":{"x":{"field":"x","type":"quantitative"},"y":{"field":"y","type":"quantitative"}}},
{"data":{"name":"cctrl"},"mark":{"type":"line","strokeDash":[3,2],"strokeWidth":1.5,"point":{"filled":true,"size":20,"opacity":1}},"encoding":{"x":{"field":"x","type":"quantitative"},"y":{"field":"y","type":"quantitative"},"color":{"datum":"Control point","type":"nominal"}}}
]}
]
}
